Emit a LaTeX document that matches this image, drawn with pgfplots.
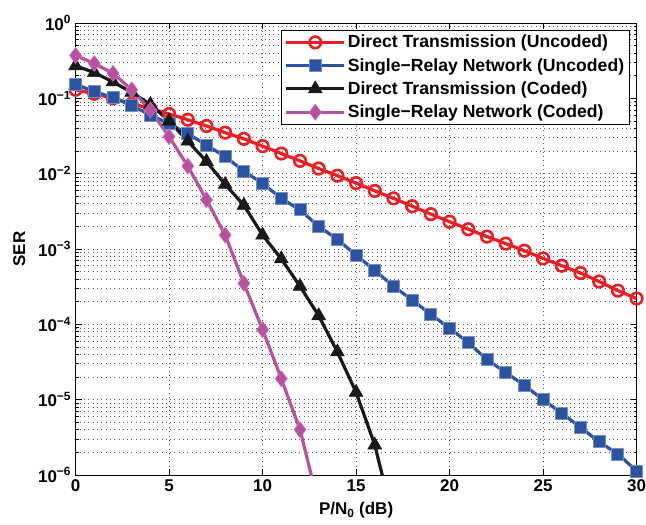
\documentclass[border=0pt]{standalone}
\usepackage{fontspec}
\setmainfont{Liberation Sans}
\usepackage{pgfplots}
\pgfplotsset{compat=1.18}

\definecolor{serRed}{RGB}{236,30,36}
\definecolor{serBlue}{RGB}{44,82,162}
\definecolor{serMag}{RGB}{184,80,160}

\begin{document}
\begin{tikzpicture}
\begin{semilogyaxis}[
  scale only axis,
  width=561pt, height=452pt,
  xmin=0, xmax=30, ymin=1e-6, ymax=1,
  xtick={0,5,...,30},
  ytick={1e-6,1e-5,1e-4,1e-3,1e-2,1e-1,1},
  yticklabels={
    10\textsuperscript{−6},10\textsuperscript{−5},10\textsuperscript{−4},
    10\textsuperscript{−3},10\textsuperscript{−2},10\textsuperscript{−1},
    10\textsuperscript{0}},
  /pgf/number format/assume math mode=true,
  tick align=inside,
  major tick length=6pt, minor tick length=3pt,
  tick style={black, line width=0.6pt},
  axis line style={black, line width=0.9pt},
  xmajorgrids, ymajorgrids, yminorgrids,
  major grid style={black!65, line width=0.55pt, dash pattern=on 0.7pt off 3.6pt},
  minor grid style={black!65, line width=0.55pt, dash pattern=on 0.7pt off 3.6pt},
  ticklabel style={font=\fontsize{17}{19}\selectfont\bfseries},
  yticklabel style={xshift=-1pt},
  xticklabel style={yshift=-1pt},
  label style={font=\fontsize{17}{19}\selectfont\bfseries},
  xlabel={P/N\textsubscript{0} (dB)},
  xlabel style={yshift=-4pt},
  ylabel={SER},
  ylabel style={yshift=6pt},
  legend cell align=left,
  legend style={
    at={(0.9875,0.985)}, anchor=north east,
    font=\fontsize{17.6}{19}\selectfont\bfseries,
    draw=black, line width=0.9pt, fill=white,
    inner sep=3pt, row sep=5pt,
  },
  legend image code/.code={%
    \draw[mark repeat=2, mark phase=2, #1]
      plot coordinates {(0pt,0pt) (29pt,0pt) (58pt,0pt)};},
]

% direct link, uncoded
\addplot[serRed, line width=3.2pt, mark=o, mark size=5.8pt,
  mark options={solid, line width=2.6pt}] coordinates {
  (0,0.13) (1,0.115) (2,0.1) (3,0.085) (4,0.073) (5,0.062)
  (6,0.052) (7,0.043) (8,0.035) (9,0.029) (10,0.0232)
  (11,0.0185) (12,0.0148) (13,0.0117) (14,0.0094) (15,0.0075)
  (16,0.0059) (17,0.0047) (18,0.0037) (19,0.0029) (20,0.0023)
  (21,0.00183) (22,0.00146) (23,0.00118) (24,0.00095) (25,0.00075)
  (26,0.0006) (27,0.00048) (28,0.00037) (29,0.00028) (30,0.00022)};
\addlegendentry{Direct Transmission (Uncoded)}

% one relay, uncoded
\addplot[serBlue, line width=3.2pt, mark=square*, mark size=6pt,
  mark options={solid, fill=serBlue, draw=serBlue!65!white, line width=0.9pt}] coordinates {
  (0,0.155) (1,0.122) (2,0.103) (3,0.08) (4,0.06) (5,0.046)
  (6,0.034) (7,0.024) (8,0.0168) (9,0.0108) (10,0.0074)
  (11,0.0047) (12,0.0033) (13,0.002) (14,0.00134) (15,0.00083)
  (16,0.00052) (17,0.00032) (18,0.00021) (19,0.000135) (20,8.9e-5)
  (21,5.7e-5) (22,3.4e-5) (23,2.3e-5) (24,1.55e-5) (25,1.0e-5)
  (26,6.6e-6) (27,4.3e-6) (28,2.75e-6) (29,1.9e-6) (30,1.13e-6)};
\addlegendentry{Single−Relay Network (Uncoded)}

% direct link, coded
\addplot[black!90, line width=3.2pt, mark=triangle*, mark size=8pt,
  mark options={solid, line width=0.5pt}] coordinates {
  (0,0.27) (1,0.22) (2,0.165) (3,0.12) (4,0.083) (5,0.05)
  (6,0.027) (7,0.0145) (8,0.0072) (9,0.0038) (10,0.00153)
  (11,0.00074) (12,0.00032) (13,0.00013) (14,4.3e-5) (15,1.25e-5)
  (16,2.5e-6)};
\addlegendentry{Direct Transmission (Coded)}

% one relay, coded
\addplot[serMag, line width=3.2pt, mark=diamond*, mark size=8pt,
  mark options={solid, fill=serMag, draw=serMag!80!white, line width=0.6pt}] coordinates {
  (0,0.37) (1,0.29) (2,0.215) (3,0.13) (4,0.07) (5,0.031)
  (6,0.0126) (7,0.0045) (8,0.00153) (9,0.00035) (10,8.5e-5)
  (11,1.9e-5) (12,4e-6)};
\addlegendentry{Single−Relay Network (Coded)}

% curves continuing below the lower limit
\addplot[black!90, line width=3.2pt, forget plot] coordinates {(16,2.5e-6) (17,2.5e-7)};
\addplot[serMag, line width=3.2pt, forget plot] coordinates {(12,4e-6) (13,4e-7)};

\end{semilogyaxis}
\pgfresetboundingbox
\path ([shift={(-75.6pt,-50pt)}]current axis.south west)
  rectangle ([shift={(9.4pt,23pt)}]current axis.north east);
\end{tikzpicture}
\end{document}
